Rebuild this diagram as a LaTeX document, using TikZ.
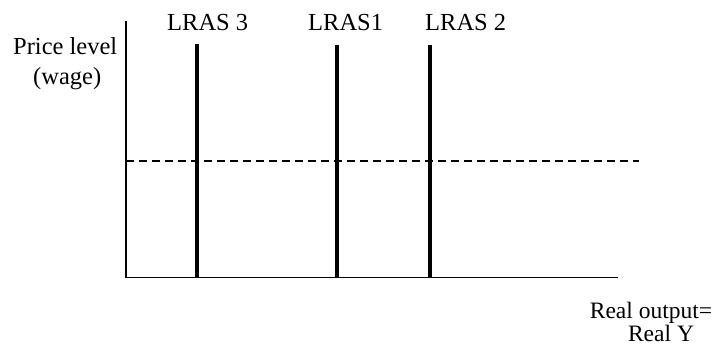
\documentclass[tikz,border=0pt]{standalone}
\usepackage{fontspec}
\setmainfont{Liberation Serif}
\begin{document}
\begin{tikzpicture}[x=1pt,y=-1pt,
  lbl/.style={anchor=base west,inner sep=0pt,font=\fontsize{24.5}{29}\selectfont},
  xlbl/.style={anchor=base,inner sep=0pt,font=\fontsize{23.5}{28}\selectfont},
  axis/.style={line width=1.4pt},
  lras/.style={line width=3.6pt},
  level/.style={line width=1.3pt,dash pattern=on 8pt off 5pt}]
\useasboundingbox (0,0) rectangle (727,345);
% axes
\coordinate (top) at (126,21);
\coordinate (origin) at (126,277.5);
\coordinate (xend) at (618,277.5);
\draw[axis] (top) -- (origin) -- (xend);
% price level
\coordinate (pl) at (126,161);
\coordinate (pr) at (639,161);
\draw[level] (pl) -- (pr);
% long-run supply curves
\coordinate (l3t) at (197,44); \coordinate (l3b) at (197,277.5);
\coordinate (l1t) at (337,45); \coordinate (l1b) at (337,277.5);
\coordinate (l2t) at (430,45); \coordinate (l2b) at (430,277.5);
\draw[lras] (l3t) -- (l3b);
\draw[lras] (l1t) -- (l1b);
\draw[lras] (l2t) -- (l2b);
% labels
\node[lbl] (t3) at (167,31) {LRAS 3};
\node[lbl] (t1) at (308,31) {LRAS1};
\node[lbl] (t2) at (425,31) {LRAS 2};
\node[lbl] (yl1) at (13,55) {Price level};
\node[lbl] (yl2) at (33,84) {(wage)};
\node[xlbl] (xl1) at (651,318.5) {Real output=};
\node[xlbl] (xl2) at (661,341) {Real Y};
\end{tikzpicture}
\end{document}
